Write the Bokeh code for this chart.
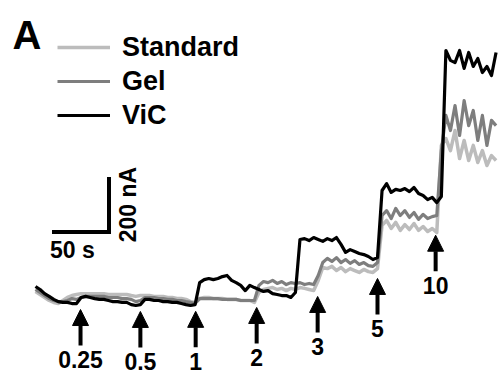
import numpy as np
from bokeh.plotting import figure
from bokeh.models import Range1d, Arrow, NormalHead, Legend, LegendItem, Label
from bokeh.embed import file_html
from bokeh.resources import INLINE
from bokeh.core.properties import value

# ---- data ----
time_s = [0, 4, 8, 12, 16, 20, 24, 28, 32, 36,
          40, 44, 48, 52, 56, 60, 64, 68, 72, 76,
          80, 84, 88, 92, 96, 100, 104, 108, 112, 116,
          120, 124, 128, 132, 136, 140, 144, 148, 152, 156,
          160, 164, 168, 172, 176, 180, 184, 188, 192, 196,
          200, 204, 208, 212, 216, 220, 224, 228, 232, 236,
          240, 244, 248, 252, 256, 260, 264, 268, 272, 276,
          280, 284, 288, 292, 296, 300, 304, 308, 312, 316,
          320, 324, 328, 332, 336, 340, 344, 348, 352, 356,
          360, 364, 368, 372, 376, 380, 384, 388, 392, 396,
          400, 404]

standard_nA = [33, 22, 11, 0, -7, -11, 0, 11, 18, 22,
               25, 25, 25, 25, 25, 25, 22, 22, 22, 22,
               22, 18, 15, 18, 18, 18, 15, 15, 15, 11,
               11, 7, 7, 4, -4, -7, 7, 11, 11, 7,
               7, 7, 4, 4, 4, 0, 0, 0, -7, 29,
               40, 44, 47, 40, 44, 36, 44, 40, 47, 44,
               40, 36, 73, 120, 116, 124, 109, 120, 105, 116,
               109, 102, 113, 105, 102, 116, 273, 291, 262, 284,
               255, 276, 258, 280, 255, 269, 251, 262, 247, 564,
               589, 545, 618, 516, 582, 509, 564, 502, 545, 491,
               527, 509]

gel_nA = [40, 29, 18, 7, 0, -4, -4, 0, 7, 4,
          11, 15, 15, 15, 15, 15, 11, 11, 11, 7,
          7, 4, -4, 0, 11, 11, 11, 7, 7, 4,
          4, 0, 0, -4, -7, -11, 7, 7, 7, 7,
          7, 4, 4, 4, 4, 0, 0, 0, 0, 55,
          69, 65, 73, 62, 69, 58, 65, 62, 65, 58,
          62, 58, 91, 138, 153, 142, 156, 138, 149, 135,
          145, 131, 138, 127, 124, 138, 309, 327, 298, 335,
          309, 327, 302, 320, 295, 313, 298, 305, 309, 545,
          673, 618, 709, 600, 727, 636, 691, 582, 673, 564,
          655, 636]

vic_nA = [51, 40, 25, 15, 4, -4, -7, -7, -11, -11,
          11, 15, 11, 7, 4, 4, 0, -4, -4, -7,
          -7, -15, -18, -15, 4, 4, 0, 0, -4, -4,
          -7, -7, -11, -15, -18, -15, 65, 76, 80, 76,
          80, 87, 91, 73, 65, 55, 36, 55, 47, 40,
          33, 36, 25, 22, 18, 18, 11, 29, 222, 225,
          218, 229, 222, 215, 225, 218, 229, 204, 175, 185,
          178, 171, 167, 160, 149, 156, 400, 425, 393, 404,
          400, 407, 396, 411, 389, 382, 367, 375, 356, 378,
          909, 873, 865, 909, 844, 902, 851, 880, 829, 851,
          818, 902]

series_names = ["Standard", "Gel", "ViC"]
inject_time_s = [39.5, 92, 140.5, 194, 247.5, 300, 351]
inject_labels = ["0.25", "0.5", "1", "2", "3", "5", "10"]
scale_time_s = 50
scale_current_nA = 200

# ---- layout / style ----
PX_PER_S = 57 / 50
PX_PER_NA = 55 / 200
W, H = 501, 374
x_start = -35 / PX_PER_S
y_top = 300 / PX_PER_NA
FONT_NAME = "Liberation Sans"
FONT = value(FONT_NAME)

p = figure(width=W, height=H, output_backend="svg", toolbar_location=None,
           x_range=Range1d(x_start, x_start + W / PX_PER_S),
           y_range=Range1d(y_top - H / PX_PER_NA, y_top),
           x_axis_location=None, y_axis_location=None, min_border=0)
p.grid.visible = False
p.outline_line_color = None
p.background_fill_color = "white"
p.border_fill_color = "white"

colors = ["#bcbcbc", "#7e7e7e", "#000000"]
widths = [3.5, 3.2, 3.2]
renderers = []
for vals, c, w in zip([standard_nA, gel_nA, vic_nA], colors, widths):
    renderers.append(p.line(time_s, vals, line_color=c, line_width=w, line_join="round"))

legend = Legend(items=[LegendItem(label=n, renderers=[r]) for n, r in zip(series_names, renderers)],
                location=(57, 242), glyph_width=53, glyph_height=34, label_height=34,
                spacing=0, padding=0, margin=0, label_standoff=12,
                label_text_font=FONT_NAME, label_text_font_size="27px", label_text_font_style="bold",
                label_text_color="black", border_line_color=None, background_fill_alpha=0)
p.add_layout(legend)

# injection arrows
series = [np.array(standard_nA), np.array(gel_nA), np.array(vic_nA)]
lab_x, lab_y = [], []
for t, lab in zip(inject_time_s, inject_labels):
    base = min(np.interp(t - 4, time_s, s) for s in series)
    tip = base - 6 / PX_PER_NA
    tail = tip - 36 / PX_PER_NA
    p.add_layout(Arrow(end=NormalHead(size=16, fill_color="black", line_color="black", line_width=1),
                       x_start=t, y_start=tail, x_end=t, y_end=tip,
                       line_color="black", line_width=4))
    lab_x.append(t)
    lab_y.append(tail - 14 / PX_PER_NA)
p.text(lab_x, lab_y, text=inject_labels, text_font=FONT, text_font_size="23px",
       text_font_style="bold", text_align="center", text_baseline="middle", text_color="black")

# scale bar
corner_t = 64.5
corner_i = 249
p.line([corner_t - scale_time_s, corner_t, corner_t],
       [corner_i, corner_i, corner_i + scale_current_nA],
       line_color="black", line_width=4, line_join="miter")
p.text([corner_t - scale_time_s - 2 / PX_PER_S], [corner_i - 18 / PX_PER_NA],
       text=[f"{scale_time_s} s"], text_font=FONT, text_font_size="23px", text_font_style="bold",
       text_align="left", text_baseline="middle", text_color="black")
p.text([corner_t + 19 / PX_PER_S], [corner_i + scale_current_nA / 2],
       text=[f"{scale_current_nA} nA"], angle=np.pi / 2, text_font=FONT, text_font_size="23px",
       text_font_style="bold", text_align="center", text_baseline="middle", text_color="black")

p.add_layout(Label(x=12, y=340, x_units="screen", y_units="screen", text="A",
                   text_font=FONT_NAME, text_font_size="40px", text_font_style="bold",
                   text_baseline="alphabetic", text_color="black"))

open("out.html", "w").write(file_html(p, INLINE))
